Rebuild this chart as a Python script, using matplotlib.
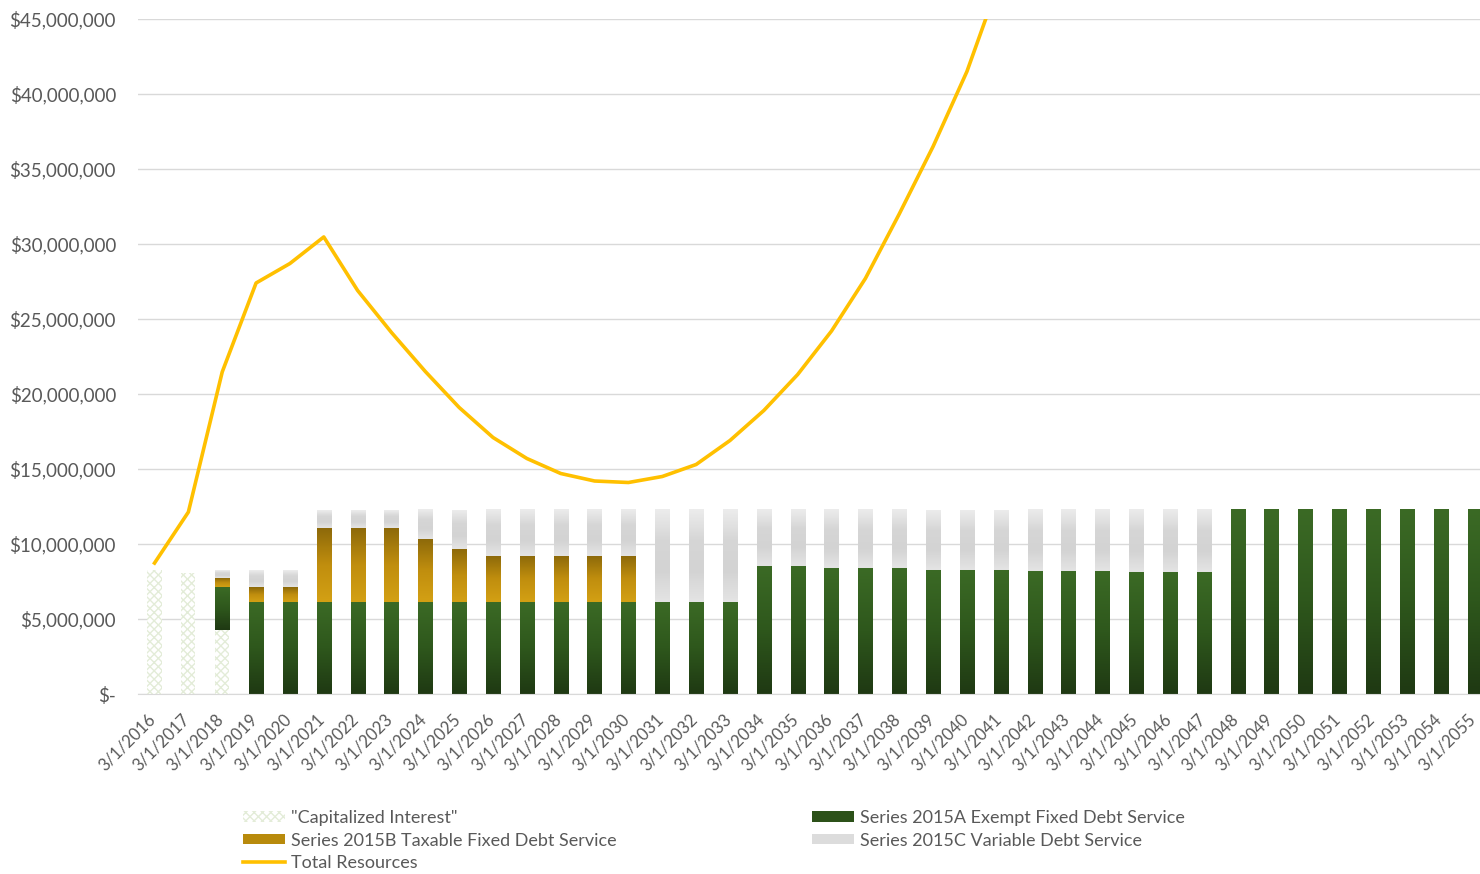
import matplotlib
matplotlib.use("Agg")
import matplotlib.pyplot as plt
from matplotlib.ticker import FuncFormatter
from matplotlib.colors import LinearSegmentedColormap
from matplotlib.transforms import ScaledTranslation
import numpy as np

# values in $ millions
years = list(range(2016, 2056))
labels = [f"3/1/{y}" for y in years]

capitalized_interest = [8.3, 8.1, 4.27] + [0] * 37

series_a = ([0, 0, 2.86]
            + [6.13] * 15            # 2019 - 2033
            + [8.53, 8.53, 8.4, 8.4, 8.4, 8.27, 8.27, 8.27,
               8.2, 8.2, 8.2, 8.13, 8.13, 8.13]   # 2034 - 2047
            + [12.27] * 8)           # 2048 - 2055

series_b = ([0, 0, 0.6, 1.0, 1.0, 4.94, 4.94, 4.94, 4.2, 3.54,
             3.07, 3.07, 3.07, 3.07, 3.07]
            + [0] * 25)

# top of the 2015C (grey) segment
top_c = [0, 0, 8.22, 8.22, 8.22] + [12.27] * 27 + [0] * 8

total_resources = [8.73, 12.13, 21.47, 27.4, 28.7, 30.47, 26.9, 24.1, 21.5,
                   19.1, 17.1, 15.7, 14.7, 14.2, 14.1, 14.5, 15.3, 16.9, 18.9,
                   21.3, 24.2, 27.7, 32.0, 36.5, 41.5, 47.8]

M = 1e6
ci = np.array(capitalized_interest) * M
a = np.array(series_a) * M
b = np.array(series_b) * M
base_c = ci + a + b
c = np.clip(np.array(top_c) * M - base_c, 0, None)


def gradient_fill(ax, bars, colors):
    # vertical gradient over each bar, colors listed bottom -> top
    cmap = LinearSegmentedColormap.from_list('g', colors)
    grad = np.linspace(0, 1, 64).reshape(-1, 1)
    for r in bars:
        if r.get_height() <= 0:
            continue
        x0, y0 = r.get_x(), r.get_y()
        ax.imshow(grad, cmap=cmap, origin='lower', aspect='auto',
                  interpolation='bilinear', zorder=1.5,
                  extent=(x0, x0 + r.get_width(), y0, y0 + r.get_height()))


plt.rcParams['font.family'] = ['Lato', 'DejaVu Sans']
grey = '#595959'

fig = plt.figure(figsize=(14.8, 8.74), dpi=100)
ax = fig.add_axes([137.6 / 1480, 180 / 874, 1354 / 1480, 675 / 874])

x = np.arange(len(years))
w = 0.42

h_ci = ax.bar(x, ci, w, color='white', edgecolor='#e3ecd8', hatch='xxxx',
              linewidth=0, label='"Capitalized Interest"')
h_a = ax.bar(x, a, w, bottom=ci, color='#2c5119', linewidth=0,
             label='Series 2015A Exempt Fixed Debt Service')
h_b = ax.bar(x, b, w, bottom=ci + a, color='#b88a0c', linewidth=0,
             label='Series 2015B Taxable Fixed Debt Service')
h_c = ax.bar(x, c, w, bottom=base_c, color='#dcdcdc', linewidth=0,
             label='Series 2015C Variable Debt Service')

gradient_fill(ax, h_a, ['#1f3913', '#2e571c', '#3b6a25'])
gradient_fill(ax, h_b, ['#d3a014', '#c08e0e', '#8c690a'])
gradient_fill(ax, h_c, ['#e4e4e4', '#d3d3d3', '#d6d6d6', '#ececec'])

h_t, = ax.plot(x[:len(total_resources)], np.array(total_resources) * M,
               color='#FFC000', linewidth=2.6, label='Total Resources',
               solid_joinstyle='round', zorder=3)

ax.set_xlim(-0.5, len(years) - 0.5)
ax.set_ylim(0, 45 * M)
ax.set_yticks(np.arange(0, 45 * M + 1, 5 * M))
ax.yaxis.set_major_formatter(FuncFormatter(
    lambda v, p: '$-' if v == 0 else f"${v:,.0f}"))
ax.set_xticks(x)
ax.set_xticklabels(labels, rotation=45, ha='right', va='center',
                   rotation_mode='anchor')
ax.tick_params(length=0, labelcolor=grey)
ax.tick_params(axis='y', pad=15.5, labelsize=13.5)
ax.tick_params(axis='x', pad=16, labelsize=12)
shift = ScaledTranslation(-1.5 / 100, 0, fig.dpi_scale_trans)
for lab in ax.get_xticklabels():
    lab.set_transform(lab.get_transform() + shift)

ax.grid(axis='y', color='#d9d9d9', linewidth=1)
ax.set_axisbelow(True)
for s in ['top', 'right', 'left']:
    ax.spines[s].set_visible(False)
ax.spines['bottom'].set_color('#d9d9d9')

handles = [h_ci, h_b, h_t, h_a, h_c]
leg = fig.legend(handles=handles, labels=[h.get_label() for h in handles],
                 loc='upper left', bbox_to_anchor=(234 / 1480, 1 - 801 / 874),
                 ncol=2, frameon=False, fontsize=13, handlelength=2.33,
                 handleheight=0.5, handletextpad=0.33, columnspacing=10.8,
                 labelspacing=0.36, borderpad=0)
for t in leg.get_texts():
    t.set_color(grey)

fig.savefig('out.png', dpi=100)
